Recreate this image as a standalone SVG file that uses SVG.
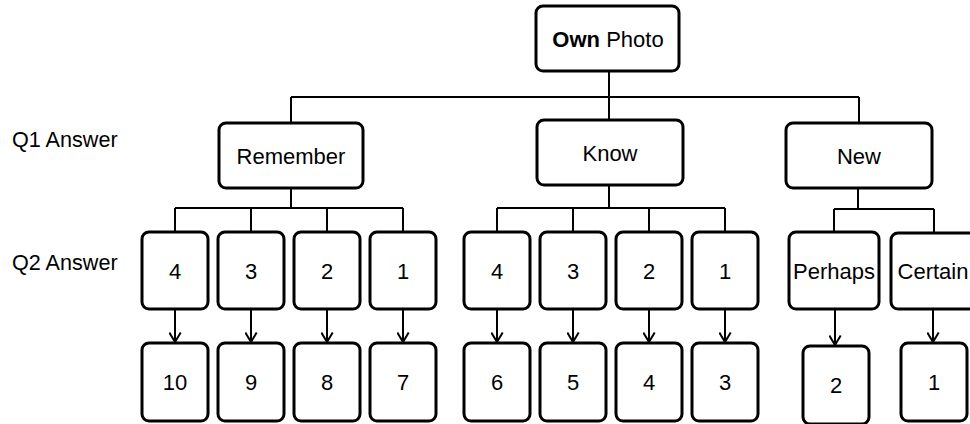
<svg xmlns="http://www.w3.org/2000/svg" width="970" height="424" viewBox="0 0 970 424">
<defs>
<style>
.box{fill:#fff;stroke:#000;stroke-width:3}
.t{font-family:"Liberation Sans",Arial,sans-serif;font-size:22px;fill:#000;text-anchor:middle}
.q{font-family:"Liberation Sans",Arial,sans-serif;font-size:21.6px;fill:#000}
.ln{fill:none;stroke:#000;stroke-width:2}
</style>
<marker id="ah" viewBox="0 0 11 13" refX="10" refY="6.5" markerWidth="11" markerHeight="13" markerUnits="userSpaceOnUse" orient="auto">
<path d="M0.5,0.8 L10,6.5 L0.5,12.2" fill="none" stroke="#000" stroke-width="2"/>
</marker>
</defs>
<rect width="970" height="424" fill="#fff"/>
<text class="q" x="12" y="147">Q1 Answer</text>
<text class="q" x="12" y="270">Q2 Answer</text>
<g id="connectors">
<path class="ln" d="M609,71 V97 M291,97 H859 M291,97 V123 M609,97 V120 M859,97 V123"/>
<path class="ln" d="M291,188 V208 M175,208 H403 M175,208 V232 M251,208 V232 M327,208 V232 M403,208 V232"/>
<path class="ln" d="M609,185 V208 M497,208 H725 M497,208 V232 M573,208 V232 M649,208 V232 M725,208 V232"/>
<path class="ln" d="M858,188 V209 M834,209 H934 M834,209 V232 M934,209 V233"/>
<g class="ln" marker-end="url(#ah)">
<path d="M175,309 V342"/><path d="M251,309 V342"/><path d="M327,309 V342"/><path d="M403,309 V342"/>
<path d="M497,309 V342"/><path d="M573,309 V342"/><path d="M649,309 V342"/><path d="M725,309 V342"/>
<path d="M835,309 V345"/><path d="M933,309 V342"/>
</g>
</g>
<g id="own"><rect class="box" x="536" y="6" width="143" height="65" rx="7"/><text class="t" x="608" y="46.5"><tspan font-weight="bold">Own</tspan> Photo</text></g>
<g id="remember"><rect class="box" x="219" y="123" width="144" height="65" rx="7"/><text class="t" x="291" y="163.5">Remember</text></g>
<g id="know"><rect class="box" x="537" y="120" width="146" height="65" rx="7"/><text class="t" x="610" y="160.5">Know</text></g>
<g id="new"><rect class="box" x="786" y="123" width="146" height="65" rx="7"/><text class="t" x="859" y="163.5">New</text></g>
<g id="r4"><rect class="box" x="142" y="232" width="66" height="77" rx="7"/><text class="t" x="175" y="279">4</text></g>
<g id="r3"><rect class="box" x="218" y="232" width="66" height="77" rx="7"/><text class="t" x="251" y="279">3</text></g>
<g id="r2"><rect class="box" x="294" y="232" width="66" height="77" rx="7"/><text class="t" x="327" y="279">2</text></g>
<g id="r1"><rect class="box" x="370" y="232" width="66" height="77" rx="7"/><text class="t" x="403" y="279">1</text></g>
<g id="k4"><rect class="box" x="464" y="232" width="66" height="77" rx="7"/><text class="t" x="497" y="279">4</text></g>
<g id="k3"><rect class="box" x="540" y="232" width="66" height="77" rx="7"/><text class="t" x="573" y="279">3</text></g>
<g id="k2"><rect class="box" x="616" y="232" width="66" height="77" rx="7"/><text class="t" x="649" y="279">2</text></g>
<g id="k1"><rect class="box" x="692" y="232" width="66" height="77" rx="7"/><text class="t" x="725" y="279">1</text></g>
<g id="perhaps"><rect class="box" x="789" y="232" width="90" height="77" rx="7"/><text class="t" x="834" y="279">Perhaps</text></g>
<g id="certain"><rect class="box" x="891" y="233" width="90" height="76" rx="7"/><text class="t" x="933" y="279">Certain</text></g>
<g id="s10"><rect class="box" x="142" y="343" width="66" height="78" rx="7"/><text class="t" x="175" y="390">10</text></g>
<g id="s9"><rect class="box" x="218" y="343" width="66" height="78" rx="7"/><text class="t" x="251" y="390">9</text></g>
<g id="s8"><rect class="box" x="294" y="343" width="66" height="78" rx="7"/><text class="t" x="327" y="390">8</text></g>
<g id="s7"><rect class="box" x="370" y="343" width="66" height="78" rx="7"/><text class="t" x="403" y="390">7</text></g>
<g id="s6"><rect class="box" x="464" y="343" width="66" height="78" rx="7"/><text class="t" x="497" y="390">6</text></g>
<g id="s5"><rect class="box" x="540" y="343" width="66" height="78" rx="7"/><text class="t" x="573" y="390">5</text></g>
<g id="s4"><rect class="box" x="616" y="343" width="66" height="78" rx="7"/><text class="t" x="649" y="390">4</text></g>
<g id="s3"><rect class="box" x="692" y="343" width="66" height="78" rx="7"/><text class="t" x="725" y="390">3</text></g>
<g id="s2"><rect class="box" x="803" y="346" width="66" height="78" rx="7"/><text class="t" x="836" y="393">2</text></g>
<g id="s1"><rect class="box" x="901" y="343" width="66" height="78" rx="7"/><text class="t" x="934" y="390">1</text></g>
</svg>
